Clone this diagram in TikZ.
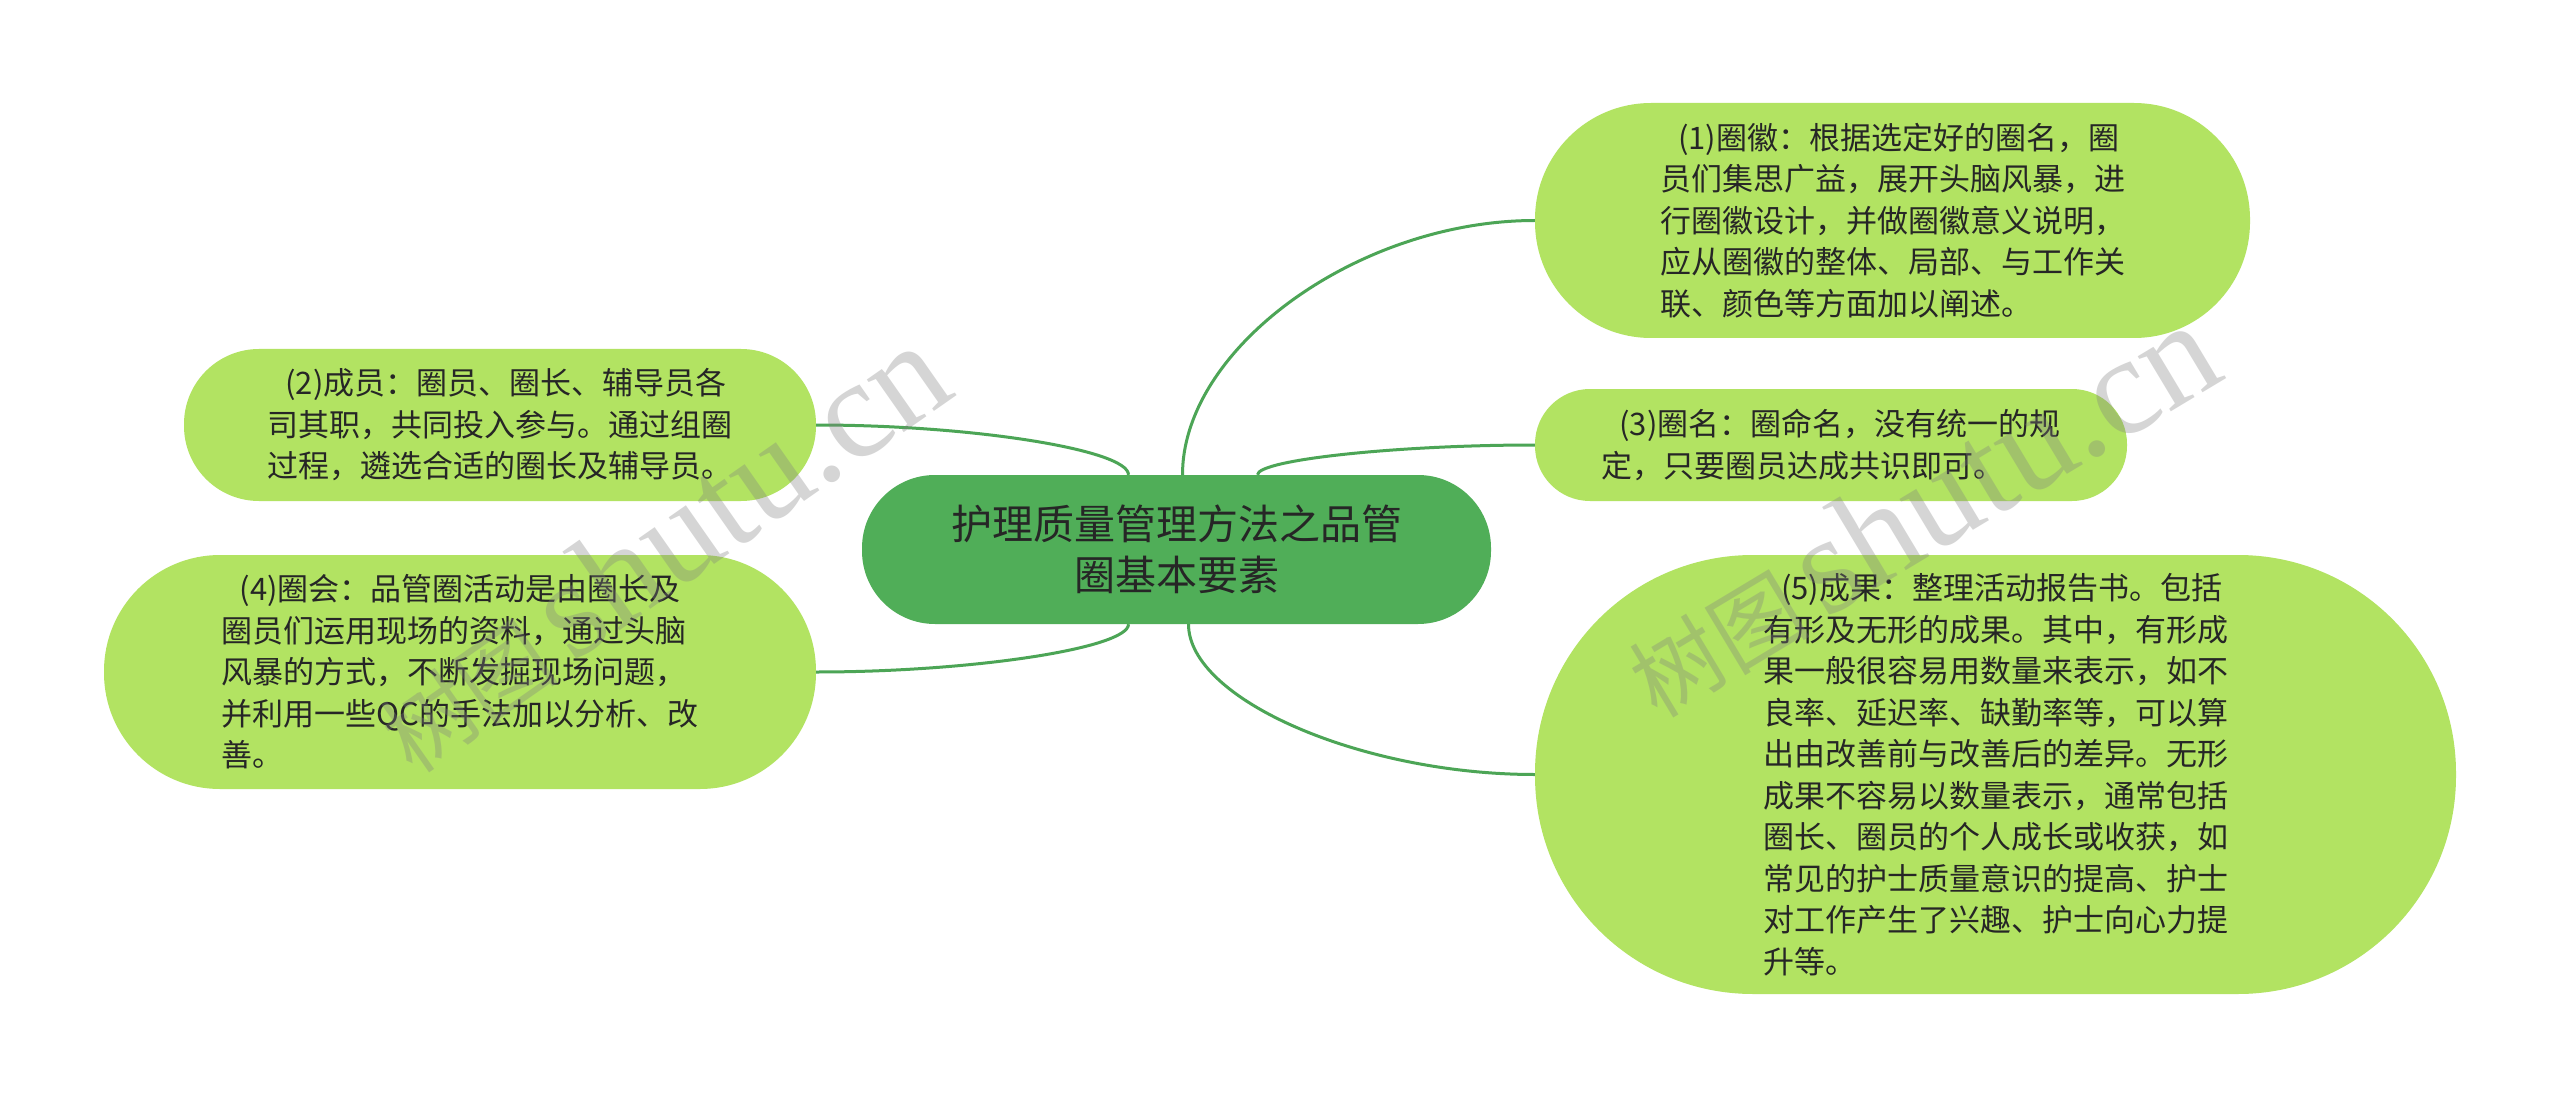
\documentclass[tikz,border=0pt]{standalone}
\usepackage{fontspec}
\setmainfont{Noto Sans CJK SC}
\newfontfamily\wmlatin{Liberation Serif}
\usetikzlibrary{calc}
\definecolor{leafgreen}{RGB}{178,227,98}
\definecolor{rootgreen}{RGB}{80,174,88}
\definecolor{linegreen}{RGB}{76,165,86}
\definecolor{txt}{RGB}{38,38,38}
\tikzset{
  leaf/.style={fill=leafgreen, draw=none, inner sep=0pt, align=left, text=txt,
    font=\fontsize{31pt}{41.5pt}\selectfont},
  root/.style={fill=rootgreen, draw=none, inner sep=0pt, align=center, text=txt,
    font=\fontsize{41pt}{51pt}\selectfont},
  conn/.style={draw=linegreen, line width=3pt},
  wm/.style={text=gray, opacity=0.33, inner sep=0pt}
}
\begin{document}
\begin{tikzpicture}[x=1pt,y=-1pt]
\useasboundingbox[fill=white] (0,0) rectangle (2560,1099);

\node[root, minimum width=629pt, minimum height=149pt, rounded corners=73pt] (c) at (1176.5,549.5)
  {护理质量管理方法之品管\\圈基本要素};

\node[leaf, minimum width=715pt, minimum height=235pt, rounded corners=116pt] (n1) at (1892.5,220.5)
  {\hspace*{18pt}(1)圈徽：根据选定好的圈名，圈\\员们集思广益，展开头脑风暴，进\\行圈徽设计，并做圈徽意义说明，\\应从圈徽的整体、局部、与工作关\\联、颜色等方面加以阐述。};

\node[leaf, minimum width=592pt, minimum height=112pt, rounded corners=55pt] (n3) at (1831,445)
  {\hspace*{18pt}(3)圈名：圈命名，没有统一的规\\定，只要圈员达成共识即可。};

\node[leaf, minimum width=921pt, minimum height=439pt, rounded corners=218pt] (n5) at (1995.5,774.5)
  {\hspace*{18pt}(5)成果：整理活动报告书。包括\\有形及无形的成果。其中，有形成\\果一般很容易用数量来表示，如不\\良率、延迟率、缺勤率等，可以算\\出由改善前与改善后的差异。无形\\成果不容易以数量表示，通常包括\\圈长、圈员的个人成长或收获，如\\常见的护士质量意识的提高、护士\\对工作产生了兴趣、护士向心力提\\升等。};

\node[leaf, minimum width=632pt, minimum height=152pt, rounded corners=75pt] (n2) at (500,425)
  {\hspace*{18pt}(2)成员：圈员、圈长、辅导员各\\司其职，共同投入参与。通过组圈\\过程，遴选合适的圈长及辅导员。};

\node[leaf, minimum width=712pt, minimum height=234pt, rounded corners=116pt] (n4) at (460,672)
  {\hspace*{18pt}(4)圈会：品管圈活动是由圈长及\\圈员们运用现场的资料，通过头脑\\风暴的方式，不断发掘现场问题，\\并利用一些QC的手法加以分析、改\\善。};

% connectors
\coordinate (s1) at ([xshift=6pt]c.north);
\coordinate (s3) at ([xshift=81pt]c.north);
\coordinate (s2) at ([xshift=-48pt]c.north);
\coordinate (s4) at ([xshift=-48pt]c.south);
\coordinate (s5) at ([xshift=12pt]c.south);
\coordinate (m1) at ($(s1)!0.5!(n1.west)$);
\coordinate (m3) at ($(s3)!0.5!(n3.west)$);
\coordinate (m5) at ($(s5)!0.5!(n5.west)$);
\coordinate (m2) at ($(s2)!0.5!(n2.east)$);
\coordinate (m4) at ($(s4)!0.5!(n4.east)$);
\draw[conn] (s1) .. controls (s1 |- m1) and (m1 |- n1.west) .. (n1.west);
\draw[conn] (s3) .. controls (s3 |- m3) and (m3 |- n3.west) .. (n3.west);
\draw[conn] (s5) .. controls (s5 |- m5) and (m5 |- n5.west) .. (n5.west);
\draw[conn] (s2) .. controls (s2 |- m2) and (m2 |- n2.east) .. (n2.east);
\draw[conn] (s4) .. controls (s4 |- m4) and (m4 |- n4.east) .. (n4.east);

% watermarks
\node[wm, rotate=35] (w1) at (660,548) {\fontsize{90pt}{90pt}\selectfont 树图\,\wmlatin\fontsize{140pt}{140pt}\selectfont shutu.cn};
\node[wm, rotate=31] (w2) at (1920,510) {\fontsize{90pt}{90pt}\selectfont 树图\,\wmlatin\fontsize{140pt}{140pt}\selectfont shutu.cn};
\end{tikzpicture}
\end{document}
